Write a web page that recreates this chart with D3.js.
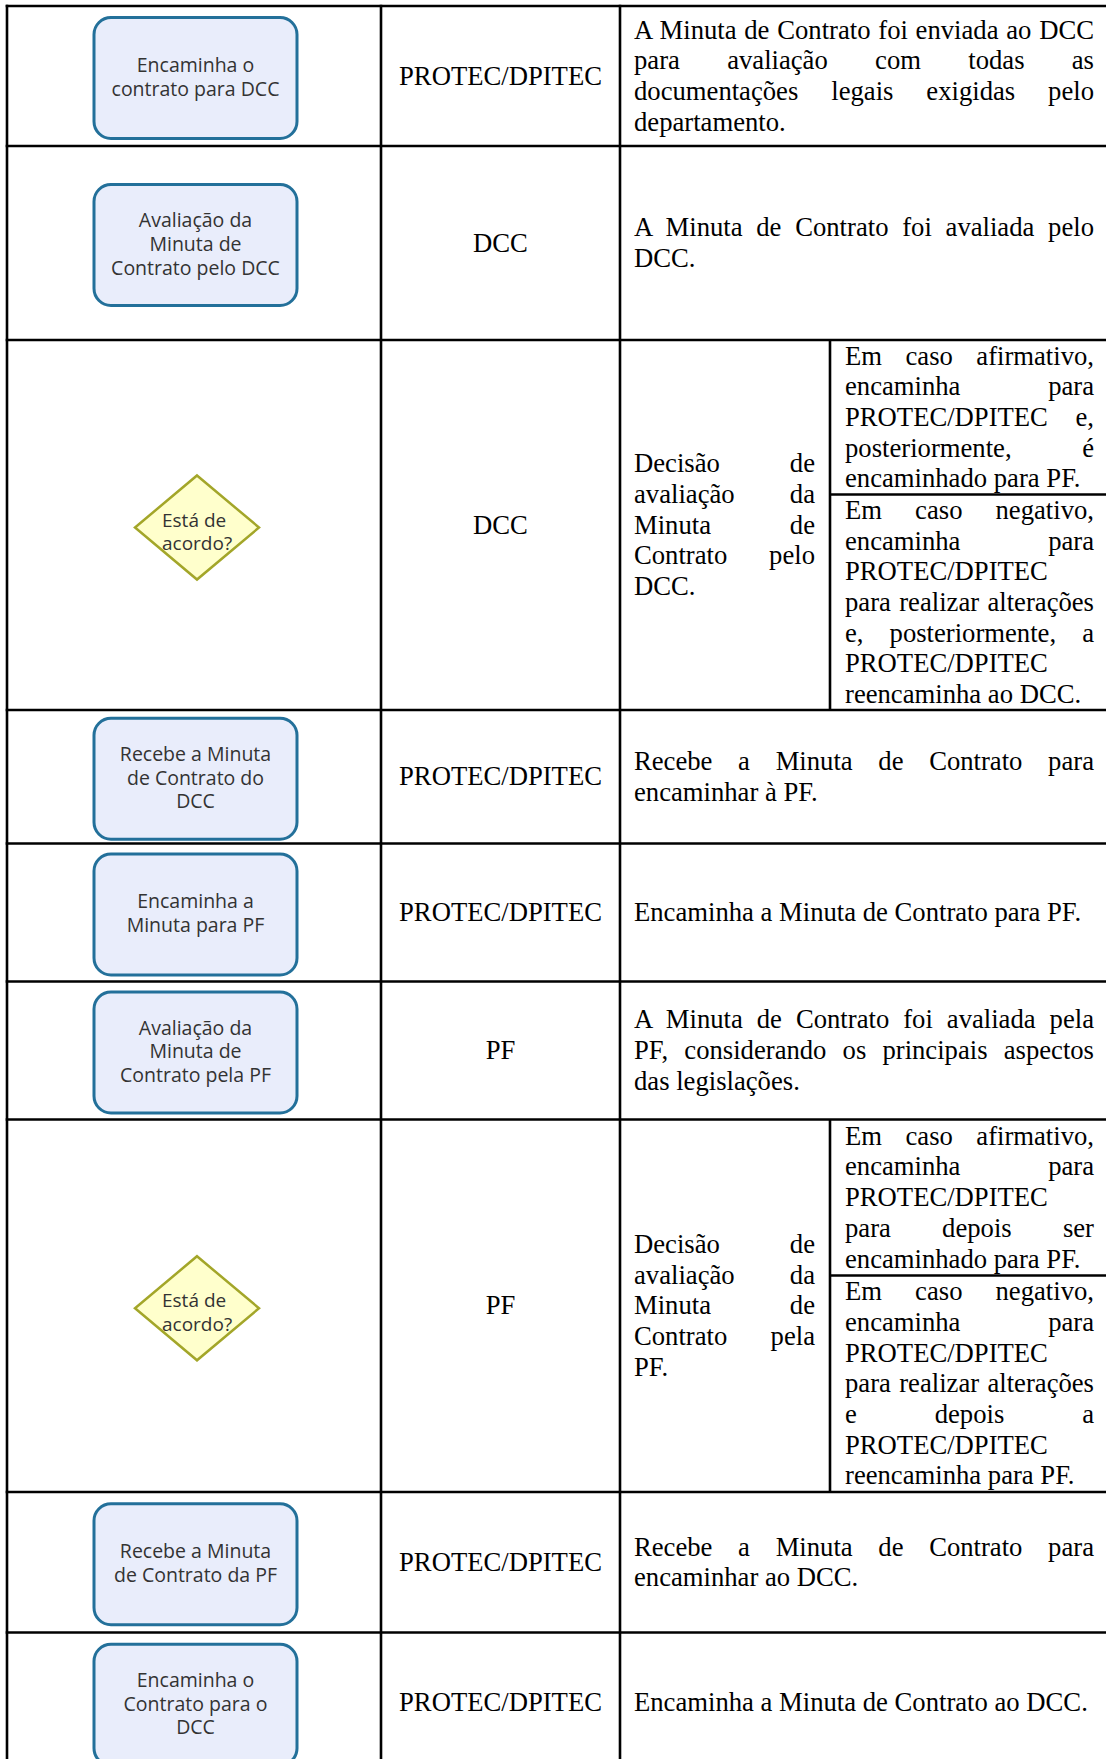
<!DOCTYPE html>
<html><head><meta charset="utf-8">
<script src="https://cdn.jsdelivr.net/npm/d3@7"></script>
<style>html,body{margin:0;padding:0;background:#fff;} svg{display:block}</style>
</head><body>
<svg id="chart" width="1106" height="1759"></svg>
<script>
// ---------------- DATA ----------------
const stepShapes = ["process","process","decision","process","process","process","decision","process","process"];
const stepLabels = [
  ["Encaminha o","contrato para DCC"],
  ["Avaliação da","Minuta de","Contrato pelo DCC"],
  ["Está de","acordo?"],
  ["Recebe a Minuta","de Contrato do","DCC"],
  ["Encaminha a","Minuta para PF"],
  ["Avaliação da","Minuta de","Contrato pela PF"],
  ["Está de","acordo?"],
  ["Recebe a Minuta","de Contrato da PF"],
  ["Encaminha o","Contrato para o","DCC"]
];
const stepActors = ["PROTEC/DPITEC","DCC","DCC","PROTEC/DPITEC","PROTEC/DPITEC","PF","PF","PROTEC/DPITEC","PROTEC/DPITEC"];
const stepDescriptions = [
  ["A Minuta de Contrato foi enviada ao DCC","para avaliação com todas as","documentações legais exigidas pelo","departamento."],
  ["A Minuta de Contrato foi avaliada pelo","DCC."],
  [],
  ["Recebe a Minuta de Contrato para","encaminhar à PF."],
  ["Encaminha a Minuta de Contrato para PF."],
  ["A Minuta de Contrato foi avaliada pela","PF, considerando os principais aspectos","das legislações."],
  [],
  ["Recebe a Minuta de Contrato para","encaminhar ao DCC."],
  ["Encaminha a Minuta de Contrato ao DCC."]
];
const decisionSteps = [2, 6];
const decisionSummaries = [
  ["Decisão de","avaliação da","Minuta de","Contrato pelo","DCC."],
  ["Decisão de","avaliação da","Minuta de","Contrato pela","PF."]
];
const decisionYes = [
  ["Em caso afirmativo,","encaminha para","PROTEC/DPITEC e,","posteriormente, é","encaminhado para PF."],
  ["Em caso afirmativo,","encaminha para","PROTEC/DPITEC","para depois ser","encaminhado para PF."]
];
const decisionNo = [
  ["Em caso negativo,","encaminha para","PROTEC/DPITEC","para realizar alterações","e, posteriormente, a","PROTEC/DPITEC","reencaminha ao DCC."],
  ["Em caso negativo,","encaminha para","PROTEC/DPITEC","para realizar alterações","e depois a","PROTEC/DPITEC","reencaminha para PF."]
];

// ---------------- LAYOUT ----------------
const rowEdges = [6, 146, 340, 710, 843.5, 981.5, 1119.5, 1492, 1632.5, 1773];
const splitEdges = [494.5, 1275.5];
const y = d3.scaleOrdinal().domain(d3.range(rowEdges.length)).range(rowEdges);
const x = d3.scaleOrdinal()
  .domain(["left","actor","desc","sub","right"])
  .range([7, 381, 620, 830, 1110]);

const SERIF = "'Liberation Serif','Times New Roman',serif";
const SANS = "'Open Sans','Noto Sans',sans-serif";
const FS = 26.67, LH = 30.67, ASC = 24, PAD = 14;

const svg = d3.select("#chart");
const gShapes = svg.append("g");
const gText = svg.append("g");
const gGrid = svg.append("g");

function paragraph(lines, x0, width, top, height, justify) {
  const n = lines.length;
  const first = top + (height - n * LH) / 2 + ASC;
  lines.forEach((ln, i) => {
    const t = gText.append("text")
      .attr("x", x0).attr("y", first + i * LH)
      .attr("font-family", SERIF).attr("font-size", FS)
      .attr("fill", "#000").style("white-space", "pre")
      .text(ln);
    const spaces = ln.split(" ").length - 1;
    if (justify && i < n - 1 && spaces > 0) {
      const w = t.node().getComputedTextLength();
      t.style("word-spacing", ((width - w) / spaces) + "px");
    }
  });
}

// shapes
stepShapes.forEach((shape, i) => {
  const cy = (y(i) + y(i + 1)) / 2 + 2;
  const labels = stepLabels[i];
  if (shape === "process") {
    const cx = 195.5, w = 203, h = 121;
    gShapes.append("rect")
      .attr("x", cx - w / 2).attr("y", cy - h / 2)
      .attr("width", w).attr("height", h)
      .attr("rx", 17).attr("ry", 17)
      .attr("fill", "#e9edfb").attr("stroke", "#23709a").attr("stroke-width", 3);
    labels.forEach((l, k) => {
      gShapes.append("text")
        .attr("x", cx).attr("y", cy + 5.8 + (k - (labels.length - 1) / 2) * 23.7)
        .attr("text-anchor", "middle")
        .attr("font-family", SANS).attr("font-size", 19.5).attr("fill", "#333")
        .text(l);
    });
  } else {
    const cx = 197, hw = 62, hh = 52;
    const c = cy + 0.5;
    gShapes.append("path")
      .attr("d", d3.line()([[cx, c - hh],[cx + hw, c],[cx, c + hh],[cx - hw, c]]) + "Z")
      .attr("fill", "#ffffcc").attr("stroke", "#a3a629").attr("stroke-width", 2.5)
      .attr("stroke-linejoin", "miter");
    labels.forEach((l, k) => {
      gShapes.append("text")
        .attr("x", cx - 35).attr("y", c - 1 + k * 23.5)
        .attr("font-family", SANS).attr("font-size", 19).attr("fill", "#333")
        .text(l);
    });
  }
});

// actors
stepActors.forEach((a, i) => {
  const top = y(i), h = y(i + 1) - y(i);
  gText.append("text")
    .attr("x", (x("actor") + x("desc")) / 2)
    .attr("y", top + (h - LH) / 2 + ASC)
    .attr("text-anchor", "middle")
    .attr("font-family", SERIF).attr("font-size", FS).attr("fill", "#000")
    .text(a);
});

// descriptions
stepDescriptions.forEach((lines, i) => {
  if (!lines.length) return;
  paragraph(lines, x("desc") + PAD, 460, y(i), y(i + 1) - y(i), true);
});

// decisions
decisionSteps.forEach((s, k) => {
  const top = y(s), bot = y(s + 1), mid = splitEdges[k];
  paragraph(decisionSummaries[k], x("desc") + PAD, 181, top, bot - top, true);
  paragraph(decisionYes[k], x("sub") + 15, 249, top, mid - top, true);
  paragraph(decisionNo[k], x("sub") + 15, 249, mid, bot - mid, true);
});

// grid lines
const line = (x1, y1, x2, y2) => gGrid.append("line")
  .attr("x1", x1).attr("y1", y1).attr("x2", x2).attr("y2", y2)
  .attr("stroke", "#000").attr("stroke-width", 2.6);
rowEdges.forEach((e, i) => line(x("left") - 1.3, y(i), x("right"), y(i)));
["left","actor","desc"].forEach(c => line(x(c), y(0) - 1.3, x(c), y(rowEdges.length - 1)));
decisionSteps.forEach((s, k) => {
  line(x("sub"), y(s), x("sub"), y(s + 1));
  line(x("sub"), splitEdges[k], x("right"), splitEdges[k]);
});
</script>
</body></html>
